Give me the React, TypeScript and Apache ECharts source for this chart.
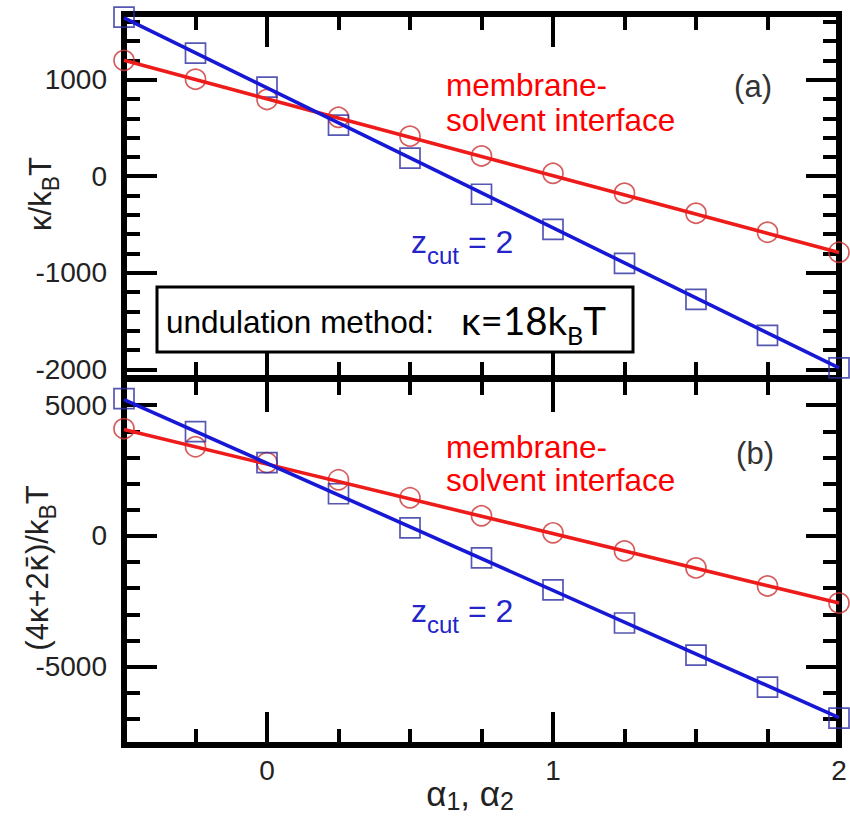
import React, { useEffect, useRef } from "react";
import * as echarts from "echarts";

// α1, α2 sample positions shared by both panels
const alphaValues = [-0.5, -0.25, 0, 0.25, 0.5, 0.75, 1, 1.25, 1.5, 1.75, 2];

// Panel (a): κ/kBT
const interfaceKappa = [1200, 1005, 795, 610, 415, 210, 30, -176, -383, -580, -788];
const zcutKappa = [1648, 1275, 922, 530, 187, -187, -550, -902, -1275, -1648, -1985];

// Panel (b): (4κ+2κ̄)/kBT
const interfaceCombo = [4100, 3410, 2800, 2145, 1456, 766, 115, -575, -1226, -1916, -2567];
const zcutCombo = [5250, 3985, 2800, 1610, 306, -843, -2069, -3333, -4560, -5785, -6973];

// Linear fits, evaluated at the ends of the α range
const fitAlpha = [-0.5, 2];
const interfaceKappaFit = [1200, -790];
const zcutKappaFit = [1640, -1985];
const interfaceComboFit = [4070, -2570];
const zcutComboFit = [5210, -6950];

// Axis ticks and labels
const xMajorTicks = [0, 1, 2];
const xMinorTicks = [-0.25, 0.25, 0.5, 0.75, 1.25, 1.5, 1.75];
const yMajorTicksA = [-2000, -1000, 0, 1000];
const yMinorTicksA = [-1800, -1600, -1400, -1200, -800, -600, -400, -200, 200, 400, 600, 800, 1200, 1400, 1600];
const yMajorTicksB = [-5000, 0, 5000];
const yMinorTicksB = [-7000, -6000, -4000, -3000, -2000, -1000, 1000, 2000, 3000, 4000];
const yRangeA = [-2090, 1680];
const yRangeB = [-8000, 6000];

const FONT = "'Liberation Sans', Arial, Helvetica, sans-serif";
const RED_LINE = "#ee1b1b";
const RED_MARK = "#cc3535";
const BLUE_LINE = "#1717d6";
const BLUE_MARK = "#2c2ca0";
const BLUE_TEXT = "#2424c8";

const pairs = (xs: number[], ys: number[]) => xs.map((x, i) => [x, ys[i]]);

function xAxesFor(gridIndex: number, showLabels: boolean) {
  const base = {
    type: "value",
    gridIndex,
    min: -0.5,
    max: 2,
    splitLine: { show: false },
    axisLine: { show: true, onZero: false, lineStyle: { color: "#000", width: 6, cap: "square" } },
  };
  const axes: any[] = [];
  for (const position of ["bottom", "top"]) {
    axes.push({
      ...base,
      position,
      axisTick: { show: true, inside: true, length: 33, lineStyle: { color: "#000", width: 4 }, customValues: xMajorTicks },
      axisLabel: {
        show: showLabels && position === "bottom",
        customValues: xMajorTicks,
        formatter: (v: number) => String(v),
        fontSize: 28,
        fontFamily: FONT,
        color: "#222",
        margin: 11,
      },
    });
    axes.push({
      ...base,
      position,
      axisTick: { show: true, inside: true, length: 16, lineStyle: { color: "#000", width: 4 }, customValues: xMinorTicks },
      axisLabel: { show: false },
    });
  }
  return axes;
}

function yAxesFor(gridIndex: number, range: number[], major: number[], minor: number[]) {
  const base = {
    type: "value",
    gridIndex,
    min: range[0],
    max: range[1],
    splitLine: { show: false },
    axisLine: { show: true, onZero: false, lineStyle: { color: "#000", width: 6, cap: "square" } },
  };
  const axes: any[] = [];
  for (const position of ["left", "right"]) {
    axes.push({
      ...base,
      position,
      axisTick: { show: true, inside: true, length: 33, lineStyle: { color: "#000", width: 4 }, customValues: major },
      axisLabel: {
        show: position === "left",
        customValues: major,
        formatter: (v: number) => String(v),
        fontSize: 28,
        fontFamily: FONT,
        color: "#222",
        margin: 17,
      },
    });
    axes.push({
      ...base,
      position,
      axisTick: { show: true, inside: true, length: 16, lineStyle: { color: "#000", width: 4 }, customValues: minor },
      axisLabel: { show: false },
    });
  }
  return axes;
}

function panelSeries(xIdx: number, yIdx: number, red: number[], blue: number[], redFit: number[], blueFit: number[]) {
  return [
    {
      type: "scatter",
      xAxisIndex: xIdx,
      yAxisIndex: yIdx,
      data: pairs(alphaValues, red),
      symbol: "circle",
      symbolSize: 20,
      clip: false,
      z: 2,
      itemStyle: { color: "rgba(0,0,0,0)", borderColor: RED_MARK, borderWidth: 1.7 },
    },
    {
      type: "scatter",
      xAxisIndex: xIdx,
      yAxisIndex: yIdx,
      data: pairs(alphaValues, blue),
      symbol: "rect",
      symbolSize: 20,
      clip: false,
      z: 2,
      itemStyle: { color: "rgba(0,0,0,0)", borderColor: BLUE_MARK, borderWidth: 1.7 },
    },
    {
      type: "line",
      xAxisIndex: xIdx,
      yAxisIndex: yIdx,
      data: pairs(fitAlpha, redFit),
      showSymbol: false,
      symbol: "none",
      z: 3,
      lineStyle: { color: RED_LINE, width: 3.6 },
    },
    {
      type: "line",
      xAxisIndex: xIdx,
      yAxisIndex: yIdx,
      data: pairs(fitAlpha, blueFit),
      showSymbol: false,
      symbol: "none",
      z: 3,
      lineStyle: { color: BLUE_LINE, width: 3.6 },
    },
  ];
}

// Rich-text styles: "n" normal tokens, "s" subscripts dropped to the bottom of the line box
const subRich = (main: number, sub: number, lineH: number, color: string, family = FONT) => ({
  n: { fontSize: main, fontFamily: family, fill: color, lineHeight: lineH, verticalAlign: "middle" },
  s: { fontSize: sub, fontFamily: family, fill: color, lineHeight: sub, verticalAlign: "bottom" },
  k: { fontSize: main, fontFamily: "'DejaVu Sans', sans-serif", fill: color, lineHeight: lineH, verticalAlign: "middle" },
});

function plainText(text: string, x: number, y: number, color: string, size: number, align = "left") {
  return {
    type: "text",
    x,
    y,
    z: 10,
    style: { text, fill: color, fontSize: size, fontFamily: FONT, align, verticalAlign: "middle" },
  };
}

export default function App() {
  const ref = useRef<HTMLDivElement>(null);

  useEffect(() => {
    if (!ref.current) return;
    const chart = echarts.init(ref.current, undefined, { renderer: "svg" });

    const option: any = {
      animation: false,
      backgroundColor: "#fff",
      grid: [
        { left: 124, right: 11, top: 14, height: 364, containLabel: false, outerBoundsMode: "none" },
        { left: 124, right: 11, top: 379, height: 366, containLabel: false, outerBoundsMode: "none" },
      ],
      xAxis: [...xAxesFor(0, false), ...xAxesFor(1, true)],
      yAxis: [
        ...yAxesFor(0, yRangeA, yMajorTicksA, yMinorTicksA),
        ...yAxesFor(1, yRangeB, yMajorTicksB, yMinorTicksB),
      ],
      series: [
        ...panelSeries(0, 0, interfaceKappa, zcutKappa, interfaceKappaFit, zcutKappaFit),
        ...panelSeries(4, 4, interfaceCombo, zcutCombo, interfaceComboFit, zcutComboFit),
      ],
      graphic: [
        // y-axis titles
        {
          type: "text",
          x: 40,
          y: 194,
          rotation: Math.PI / 2,
          style: {
            text: "{n|κ/k}{s|B}{n|T}",
            align: "center",
            verticalAlign: "middle",
            rich: subRich(31, 23, 44, "#222"),
          },
        },
        {
          type: "text",
          x: 37,
          y: 568,
          rotation: Math.PI / 2,
          style: {
            text: "{n|(4κ+2}{k|κ\u0304}{n|)/k}{s|B}{n|T}",
            align: "center",
            verticalAlign: "middle",
            rich: subRich(31, 23, 44, "#222"),
          },
        },
        // x-axis title
        {
          type: "text",
          x: 470,
          y: 793,
          style: {
            text: "{n|α}{s|1}{n|, α}{s|2}",
            align: "center",
            verticalAlign: "middle",
            rich: subRich(35, 25, 40, "#222"),
          },
        },
        // panel (a) annotations
        plainText("membrane-", 446, 85, "#ff0000", 31.5),
        plainText("solvent interface", 446, 120, "#ff0000", 31.5),
        plainText("(a)", 753, 86, "#333", 31, "center"),
        {
          type: "text",
          x: 411,
          y: 242,
          style: {
            text: "{n|z}{s|cut}{n| = 2}",
            align: "left",
            verticalAlign: "middle",
            rich: subRich(32, 24, 50, BLUE_TEXT),
          },
        },
        {
          type: "rect",
          shape: { x: 157, y: 287, width: 476, height: 65 },
          z: 5,
          style: { fill: "#fff", stroke: "#000", lineWidth: 3 },
        },
        plainText("undulation method:", 166, 322, "#000", 31.5),
        {
          type: "text",
          x: 461,
          y: 320,
          z: 10,
          style: {
            text: "{n|κ=18k}{s|B}{n|T}",
            align: "left",
            verticalAlign: "middle",
            rich: subRich(38.5, 25, 54, "#000", "Lato, 'Open Sans', sans-serif"),
          },
        },
        // panel (b) annotations
        plainText("membrane-", 446, 447, "#ff0000", 31.5),
        plainText("solvent interface", 446, 480, "#ff0000", 31.5),
        plainText("(b)", 755, 453, "#333", 31, "center"),
        {
          type: "text",
          x: 411,
          y: 611,
          style: {
            text: "{n|z}{s|cut}{n| = 2}",
            align: "left",
            verticalAlign: "middle",
            rich: subRich(32, 24, 50, BLUE_TEXT),
          },
        },
      ],
    };

    chart.setOption(option);
    return () => chart.dispose();
  }, []);

  return (
    <div
      ref={ref}
      style={{ position: "fixed", left: 0, top: 0, width: 850, height: 817, background: "#fff" }}
    />
  );
}
